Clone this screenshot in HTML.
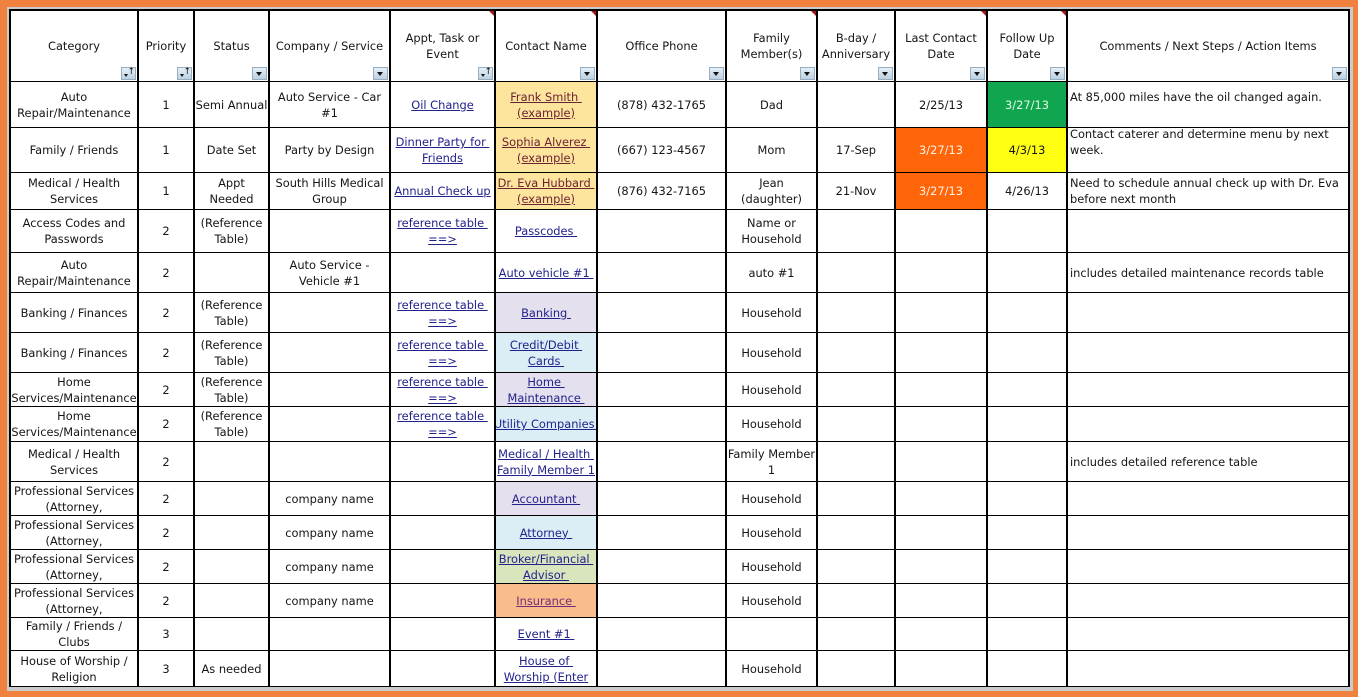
<!DOCTYPE html>
<html>
<head>
<meta charset="utf-8">
<style>
html,body{margin:0;padding:0;}
body{width:1358px;height:697px;overflow:hidden;background:#f0813f;position:relative;font-family:"DejaVu Sans","Liberation Sans",sans-serif;font-size:11.4px;color:#151515;}
.frame{position:absolute;left:7px;top:7px;width:1346px;height:684px;background:#cbcbcb;}
.g{position:absolute;left:9px;top:9px;display:grid;
grid-template-columns:128px 56px 75px 121px 105px 102px 129px 91px 78px 92px 80px 282px;
grid-template-rows:71px 46px 45px 37px 43px 40px 40px 40px 34px 35px 40px 34px 34px 34px 34px 33px 36px;
border-left:2px solid #000;border-top:2px solid #000;background:#fff;}
.g>div{box-sizing:border-box;border-right:2px solid #000;border-bottom:1px solid #000;display:flex;align-items:center;justify-content:center;text-align:center;line-height:16px;overflow:hidden;position:relative;white-space:nowrap;}
.g>div.l{justify-content:flex-start;text-align:left;padding-left:2px;}
.g>div.up{padding-bottom:16px;}
a{color:#22228c;text-decoration:underline;}
a.m{color:#6e2232;}
a.p{color:#742a78;}
.fb{position:absolute;right:1px;bottom:1px;width:15px;height:13px;box-sizing:border-box;border:1px solid #98adbf;background:linear-gradient(#e6eff6,#bcd1e1);}
.fb::after{content:"";position:absolute;left:3px;top:4px;border-left:3.5px solid transparent;border-right:3.5px solid transparent;border-top:4px solid #111;}
.fb.s::after{left:2px;top:6px;border-left-width:2px;border-right-width:2px;border-top-width:3px;}
.fb.s::before{content:"↑";position:absolute;right:0px;top:-1px;font-size:9px;line-height:11px;color:#111;}
.rm{position:absolute;right:0;top:0;width:0;height:0;border-left:5px solid transparent;border-top:5px solid #a8141a;}
.yl{background:#fde59e;}
.lv{background:#e5e0ee;}
.lb{background:#dceef5;}
.lg{background:#d9e5bd;}
.pc{background:#f9bd8c;}
.gr{background:#10a650;color:#e4f6e4;}
.or{background:#ff660a;color:#fff1e8;}
.ye{background:#ffff14;}
</style>
</head>
<body>
<div class="frame"></div>
<div class="g">
<!-- header -->
<div class="h">Category<i class="fb s"></i></div>
<div class="h">Priority<i class="fb s"></i></div>
<div class="h">Status<i class="fb"></i></div>
<div class="h">Company / Service<i class="fb"></i></div>
<div class="h">Appt, Task or<br>Event<i class="fb s"></i><i class="rm"></i></div>
<div class="h">Contact Name<i class="fb"></i><i class="rm"></i></div>
<div class="h">Office Phone<i class="fb"></i></div>
<div class="h">Family<br>Member(s)<i class="fb"></i><i class="rm"></i></div>
<div class="h">B-day /<br>Anniversary<i class="fb"></i></div>
<div class="h">Last Contact<br>Date<i class="fb"></i><i class="rm"></i></div>
<div class="h">Follow Up<br>Date<i class="fb"></i><i class="rm"></i></div>
<div class="h">Comments / Next Steps / Action Items<i class="fb"></i></div>
<!-- r1 -->
<div>Auto<br>Repair/Maintenance</div>
<div>1</div>
<div>Semi Annual</div>
<div>Auto Service - Car<br>#1</div>
<div><a>Oil Change</a></div>
<div class="yl"><a class="m">Frank Smith&nbsp;<br>(example)</a></div>
<div>(878) 432-1765</div>
<div>Dad</div>
<div></div>
<div>2/25/13</div>
<div class="gr">3/27/13</div>
<div class="l up">At 85,000 miles have the oil changed again.</div>
<!-- r2 -->
<div>Family / Friends</div>
<div>1</div>
<div>Date Set</div>
<div>Party by Design</div>
<div><a>Dinner Party for&nbsp;<br>Friends</a></div>
<div class="yl"><a class="m">Sophia Alverez&nbsp;<br>(example)</a></div>
<div>(667) 123-4567</div>
<div>Mom</div>
<div>17-Sep</div>
<div class="or">3/27/13</div>
<div class="ye">4/3/13</div>
<div class="l up">Contact caterer and determine menu by next<br>week.</div>
<!-- r3 -->
<div>Medical / Health<br>Services</div>
<div>1</div>
<div>Appt<br>Needed</div>
<div>South Hills Medical<br>Group</div>
<div><a>Annual Check up</a></div>
<div class="yl"><a class="m">Dr. Eva Hubbard&nbsp;<br>(example)</a></div>
<div>(876) 432-7165</div>
<div>Jean<br>(daughter)</div>
<div>21-Nov</div>
<div class="or">3/27/13</div>
<div>4/26/13</div>
<div class="l">Need to schedule annual check up with Dr. Eva<br>before next month</div>
<!-- r4 -->
<div>Access Codes and<br>Passwords</div>
<div>2</div>
<div>(Reference<br>Table)</div>
<div></div>
<div><a>reference table&nbsp;<br>==&gt;</a></div>
<div><a>Passcodes&nbsp;</a></div>
<div></div>
<div>Name or<br>Household</div>
<div></div><div></div><div></div><div class="l"></div>
<!-- r5 -->
<div>Auto<br>Repair/Maintenance</div>
<div>2</div>
<div></div>
<div>Auto Service -<br>Vehicle #1</div>
<div></div>
<div><a>Auto vehicle #1&nbsp;</a></div>
<div></div>
<div>auto #1</div>
<div></div><div></div><div></div>
<div class="l">includes detailed maintenance records table</div>
<!-- r6 -->
<div>Banking / Finances</div>
<div>2</div>
<div>(Reference<br>Table)</div>
<div></div>
<div><a>reference table&nbsp;<br>==&gt;</a></div>
<div class="lv"><a>Banking&nbsp;</a></div>
<div></div>
<div>Household</div>
<div></div><div></div><div></div><div class="l"></div>
<!-- r7 -->
<div>Banking / Finances</div>
<div>2</div>
<div>(Reference<br>Table)</div>
<div></div>
<div><a>reference table&nbsp;<br>==&gt;</a></div>
<div class="lb"><a>Credit/Debit&nbsp;<br>Cards&nbsp;</a></div>
<div></div>
<div>Household</div>
<div></div><div></div><div></div><div class="l"></div>
<!-- r8 -->
<div>Home<br>Services/Maintenance</div>
<div>2</div>
<div>(Reference<br>Table)</div>
<div></div>
<div><a>reference table&nbsp;<br>==&gt;</a></div>
<div class="lv"><a>Home&nbsp;<br>Maintenance&nbsp;</a></div>
<div></div>
<div>Household</div>
<div></div><div></div><div></div><div class="l"></div>
<!-- r9 -->
<div>Home<br>Services/Maintenance</div>
<div>2</div>
<div>(Reference<br>Table)</div>
<div></div>
<div><a>reference table&nbsp;<br>==&gt;</a></div>
<div class="lb"><a>Utility Companies&nbsp;</a></div>
<div></div>
<div>Household</div>
<div></div><div></div><div></div><div class="l"></div>
<!-- r10 -->
<div>Medical / Health<br>Services</div>
<div>2</div>
<div></div>
<div></div>
<div></div>
<div><a>Medical / Health&nbsp;<br>Family Member 1</a></div>
<div></div>
<div>Family Member<br>1</div>
<div></div><div></div><div></div>
<div class="l">includes detailed reference table</div>
<!-- r11 -->
<div>Professional Services<br>(Attorney,</div>
<div>2</div>
<div></div>
<div>company name</div>
<div></div>
<div class="lv"><a>Accountant&nbsp;</a></div>
<div></div>
<div>Household</div>
<div></div><div></div><div></div><div class="l"></div>
<!-- r12 -->
<div>Professional Services<br>(Attorney,</div>
<div>2</div>
<div></div>
<div>company name</div>
<div></div>
<div class="lb"><a>Attorney&nbsp;</a></div>
<div></div>
<div>Household</div>
<div></div><div></div><div></div><div class="l"></div>
<!-- r13 -->
<div>Professional Services<br>(Attorney,</div>
<div>2</div>
<div></div>
<div>company name</div>
<div></div>
<div class="lg"><a>Broker/Financial&nbsp;<br>Advisor&nbsp;</a></div>
<div></div>
<div>Household</div>
<div></div><div></div><div></div><div class="l"></div>
<!-- r14 -->
<div>Professional Services<br>(Attorney,</div>
<div>2</div>
<div></div>
<div>company name</div>
<div></div>
<div class="pc"><a class="p">Insurance&nbsp;</a></div>
<div></div>
<div>Household</div>
<div></div><div></div><div></div><div class="l"></div>
<!-- r15 -->
<div>Family / Friends /<br>Clubs</div>
<div>3</div>
<div></div>
<div></div>
<div></div>
<div><a>Event #1&nbsp;</a></div>
<div></div>
<div></div>
<div></div><div></div><div></div><div class="l"></div>
<!-- r16 -->
<div>House of Worship /<br>Religion</div>
<div>3</div>
<div>As needed</div>
<div></div>
<div></div>
<div><a>House of&nbsp;<br>Worship (Enter</a></div>
<div></div>
<div>Household</div>
<div></div><div></div><div></div><div class="l"></div>
</div>
</body>
</html>
